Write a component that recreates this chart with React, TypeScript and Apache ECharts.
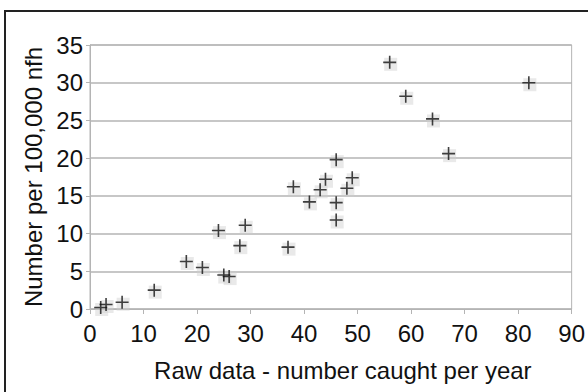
import React, { useEffect, useRef } from "react";
import * as echarts from "echarts";

const caughtPerYear = [2, 3, 6, 12, 18, 21, 24, 25, 26, 28, 29, 37, 38, 41, 43, 44, 46, 46, 46, 48, 49, 56, 59, 64, 67, 82];
const per100k = [0.2, 0.6, 0.9, 2.5, 6.3, 5.5, 10.4, 4.5, 4.3, 8.4, 11.1, 8.2, 16.2, 14.2, 15.8, 17.2, 19.8, 14.1, 11.8, 16.0, 17.4, 32.7, 28.2, 25.2, 20.6, 30.0];
const xTicks = { min: 0, max: 90, interval: 10 };
const yTicks = { min: 0, max: 35, interval: 5 };
const xTitle = "Raw data - number caught per year";
const yTitle = "Number per 100,000 nfh";

const PLUS = "path://M5.7,0h1.6v5.7h5.7v1.6h-5.7v5.7h-1.6v-5.7h-5.7v-1.6h5.7z";

export default function App() {
  const ref = useRef<HTMLDivElement>(null);
  useEffect(() => {
    const chart = echarts.init(ref.current!, null, { renderer: "svg" });
    const pts = caughtPerYear.map((x, i) => [x, per100k[i]]);
    const font = "'Liberation Sans', Arial, sans-serif";
    chart.setOption({
      animation: false,
      backgroundColor: "#fff",
      textStyle: { fontFamily: font },
      graphic: [
        {
          type: "rect",
          shape: { x: 5, y: 11, width: 620, height: 420 },
          style: { fill: "none", stroke: "#222", lineWidth: 2 },
          z: 100,
        },
      ],
      grid: {
        left: 90, top: 45, right: 15, bottom: 83,
        show: true, borderColor: "#b4b4b4", borderWidth: 1, backgroundColor: "transparent",
      },
      xAxis: {
        type: "value",
        min: xTicks.min, max: xTicks.max, interval: xTicks.interval,
        name: xTitle, nameLocation: "middle", nameGap: 49,
        nameTextStyle: { fontSize: 24, color: "#111", fontFamily: font, padding: [0, 0, 0, 24] },
        axisLine: { show: true, lineStyle: { color: "#b4b4b4", width: 1 } },
        axisTick: { show: true, length: 5, lineStyle: { color: "#b4b4b4" } },
        axisLabel: { fontSize: 24, color: "#111", margin: 12, fontFamily: font },
        splitLine: { show: false },
      },
      yAxis: {
        type: "value",
        min: yTicks.min, max: yTicks.max, interval: yTicks.interval,
        name: yTitle, nameLocation: "middle", nameGap: 43, nameRotate: 90,
        nameTextStyle: { fontSize: 24, color: "#111", fontFamily: font },
        axisLine: { show: true, lineStyle: { color: "#b4b4b4", width: 1 } },
        axisTick: { show: true, length: 4, lineStyle: { color: "#b4b4b4" } },
        axisLabel: { fontSize: 24, color: "#111", margin: 7, fontFamily: font },
        splitLine: { show: true, lineStyle: { color: "#b4b4b4", width: 1.5 } },
      },
      series: [
        {
          type: "scatter",
          data: pts,
          symbol: "rect",
          symbolSize: 13,
          symbolOffset: [1, 2],
          itemStyle: { color: "rgba(205,205,205,0.55)" },
          silent: true,
        },
        {
          type: "scatter",
          data: pts,
          symbol: PLUS,
          symbolSize: 13,
          itemStyle: { color: "#111" },
        },
      ],
    });
    return () => chart.dispose();
  }, []);
  return (
    <div
      ref={ref}
      style={{ position: "fixed", left: 0, top: 0, width: 588, height: 392 }}
    />
  );
}
